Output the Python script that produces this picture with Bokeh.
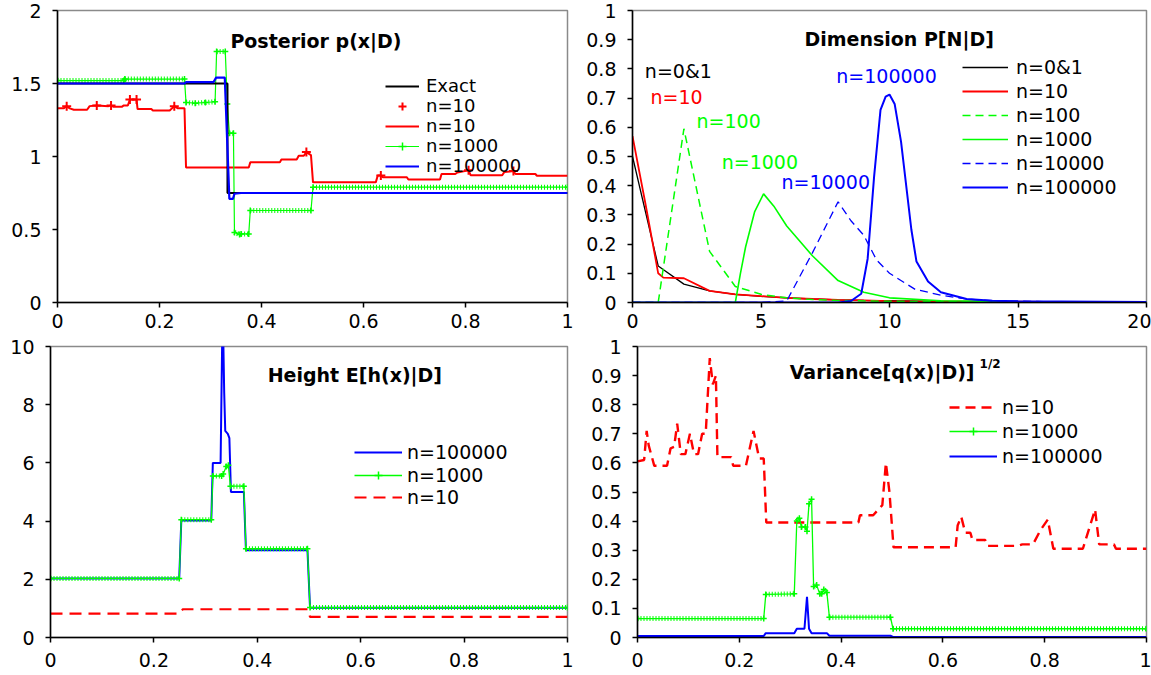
import numpy as np
from bokeh.plotting import figure
from bokeh.layouts import column, row
from bokeh.models import Range1d, FixedTicker, Legend, LegendItem, Label
from bokeh.embed import file_html
from bokeh.resources import INLINE

# ---------------- data ----------------
unit_ticks = [0, 0.2, 0.4, 0.6, 0.8, 1]
unit_tick_labels = ["0", "0.2", "0.4", "0.6", "0.8", "1"]

# Panel 1: Posterior p(x|D)
p1_yticks = [0, 0.5, 1, 1.5, 2]
p1_ylabels = ["0", "0.5", "1", "1.5", "2"]
exact_x = [0, 0.3333, 0.3333, 1]
exact_y = [1.5, 1.5, 0.75, 0.75]
post10_x = [0, 0.012, 0.018, 0.024, 0.032, 0.058, 0.063, 0.077, 0.1, 0.105,
            0.11, 0.126, 0.13, 0.138, 0.142, 0.155, 0.157, 0.184, 0.187, 0.22,
            0.229, 0.236, 0.249, 0.252, 0.375, 0.378, 0.436, 0.439, 0.469, 0.473,
            0.483, 0.488, 0.497, 0.501, 0.624, 0.628, 0.634, 0.638, 0.685, 0.688,
            0.75, 0.753, 0.78, 0.784, 0.806, 0.81, 0.872, 0.876, 0.894, 0.898,
            0.937, 0.94, 1]
post10_y = [1.33, 1.33, 1.345, 1.33, 1.32, 1.32, 1.345, 1.35, 1.345, 1.35,
            1.34, 1.34, 1.35, 1.35, 1.39, 1.39, 1.325, 1.325, 1.315, 1.315,
            1.345, 1.33, 1.33, 0.925, 0.925, 0.96, 0.96, 0.98, 0.98, 1.005,
            1.005, 1.03, 1.01, 0.823, 0.823, 0.87, 0.87, 0.858, 0.858, 0.842,
            0.842, 0.88, 0.88, 0.89, 0.905, 0.872, 0.872, 0.893, 0.9, 0.88,
            0.88, 0.868, 0.868]
post10_pts_x = [0.018, 0.077, 0.105, 0.142, 0.155, 0.229, 0.488, 0.634, 0.806, 0.894]
post10_pts_y = [1.345, 1.35, 1.35, 1.39, 1.39, 1.345, 1.03, 0.87, 0.905, 0.9]
post1000_x = [0, 0.13, 0.132, 0.249, 0.252, 0.27, 0.29, 0.309, 0.312, 0.329,
              0.333, 0.337, 0.345, 0.347, 0.357, 0.36, 0.375, 0.378, 0.497, 0.501, 1]
post1000_y = [1.52, 1.52, 1.53, 1.53, 1.37, 1.365, 1.37, 1.375, 1.72, 1.72,
              1.36, 1.16, 1.16, 0.48, 0.465, 0.47, 0.47, 0.63, 0.63, 0.79, 0.79]
post1e5_x = [0, 0.249, 0.252, 0.306, 0.311, 0.328, 0.337, 0.344, 0.347, 0.36, 1]
post1e5_y = [1.5, 1.5, 1.51, 1.51, 1.54, 1.54, 0.71, 0.71, 0.745, 0.75, 0.75]

# Panel 2: Dimension P[N|D]
p2_xticks = [0, 5, 10, 15, 20]
p2_xlabels = ["0", "5", "10", "15", "20"]
p2_yticks = [0, 0.1, 0.2, 0.3, 0.4, 0.5, 0.6, 0.7, 0.8, 0.9, 1]
p2_ylabels = ["0", "0.1", "0.2", "0.3", "0.4", "0.5", "0.6", "0.7", "0.8", "0.9", "1"]
dim01_x = [0, 1, 2, 3, 4, 5, 6, 7, 8, 9, 10, 12, 14, 16, 18, 20]
dim01_y = [0.5, 0.125, 0.063, 0.04, 0.028, 0.021, 0.016, 0.012, 0.009, 0.007,
           0.006, 0.004, 0.003, 0.002, 0.002, 0.001]
dim10_x = [0, 0.5, 1, 1.2, 2, 3, 4, 5, 6, 7, 8, 9, 10, 12, 14, 16, 20]
dim10_y = [0.57, 0.34, 0.1, 0.085, 0.083, 0.04, 0.028, 0.022, 0.016, 0.012,
           0.009, 0.007, 0.005, 0.004, 0.003, 0.002, 0.001]
dim100_x = [0, 1, 2, 3, 4, 5, 6, 7, 8, 10, 12, 15, 20]
dim100_y = [0, 0, 0.595, 0.175, 0.055, 0.028, 0.016, 0.01, 0.007, 0.004, 0.003, 0.002, 0.001]
dim1000_x = [0, 4, 4.2, 4.4, 4.75, 5.1, 5.5, 6, 7, 8, 9, 10, 12, 15, 20]
dim1000_y = [0, 0, 0.1, 0.19, 0.31, 0.372, 0.33, 0.262, 0.16, 0.075, 0.035, 0.016, 0.006, 0.003, 0.002]
dim1e4_x = [0, 5, 6, 7, 8, 8.5, 9, 9.5, 10, 11, 12, 13, 14, 16, 20]
dim1e4_y = [0, 0, 0.005, 0.17, 0.345, 0.28, 0.23, 0.145, 0.1, 0.045, 0.025, 0.012, 0.006, 0.003, 0.002]
dim1e5_x = [0, 8, 8.5, 8.9, 9.15, 9.4, 9.65, 9.85, 10, 10.2, 10.45, 10.85, 11.05,
            11.5, 12, 13, 14, 15, 20]
dim1e5_y = [0, 0, 0.005, 0.03, 0.15, 0.43, 0.66, 0.705, 0.712, 0.68, 0.55, 0.25,
            0.14, 0.072, 0.035, 0.012, 0.006, 0.004, 0.002]
dim_labels = ["n=0&1", "n=10", "n=100", "n=1000", "n=10000", "n=100000"]
dim_label_x = [0.48, 0.7, 2.49, 3.47, 5.8, 7.93]
dim_label_y = [0.792, 0.704, 0.623, 0.481, 0.413, 0.775]

# Panel 3: Height E[h(x)|D]
p3_yticks = [0, 2, 4, 6, 8, 10]
p3_ylabels = ["0", "2", "4", "6", "8", "10"]
h1e5_x = [0, 0.249, 0.253, 0.311, 0.314, 0.329, 0.333, 0.336, 0.338, 0.343,
          0.346, 0.349, 0.374, 0.378, 0.497, 0.502, 1]
h1e5_y = [2.03, 2.03, 4.02, 4.02, 6.0, 6.0, 11.5, 8.4, 7.1, 7.0,
          6.85, 5.0, 5.0, 3.0, 3.0, 1.02, 1.02]
h1000_x = [0, 0.249, 0.253, 0.311, 0.314, 0.331, 0.334, 0.34, 0.344, 0.348,
           0.374, 0.378, 0.497, 0.502, 1]
h1000_y = [2.03, 2.03, 4.05, 4.05, 5.55, 5.55, 5.62, 5.88, 5.92, 5.2,
           5.2, 3.05, 3.05, 1.03, 1.03]
h10_x = [0, 0.249, 0.256, 0.498, 0.502, 1]
h10_y = [0.82, 0.82, 0.97, 0.97, 0.71, 0.71]

# Panel 4: Variance[q(x)|D]^1/2
p4_yticks = [0, 0.1, 0.2, 0.3, 0.4, 0.5, 0.6, 0.7, 0.8, 0.9, 1]
p4_ylabels = ["0", "0.1", "0.2", "0.3", "0.4", "0.5", "0.6", "0.7", "0.8", "0.9", "1"]
v10_x = [0, 0.013, 0.018, 0.022, 0.033, 0.058, 0.065, 0.072, 0.078, 0.085,
         0.094, 0.103, 0.111, 0.119, 0.127, 0.134, 0.142, 0.148, 0.154, 0.157,
         0.184, 0.188, 0.213, 0.228, 0.239, 0.248, 0.253, 0.434, 0.437, 0.463,
         0.481, 0.488, 0.495, 0.503, 0.625, 0.629, 0.636, 0.644, 0.654, 0.658,
         0.683, 0.687, 0.748, 0.756, 0.777, 0.792, 0.806, 0.817, 0.875, 0.899,
         0.907, 0.936, 0.94, 1]
v10_y = [0.605, 0.61, 0.71, 0.66, 0.59, 0.59, 0.65, 0.655, 0.735, 0.63,
         0.63, 0.7, 0.63, 0.63, 0.7, 0.7, 0.96, 0.87, 0.9, 0.62,
         0.62, 0.59, 0.59, 0.71, 0.615, 0.615, 0.395, 0.395, 0.42, 0.42,
         0.455, 0.6, 0.5, 0.31, 0.31, 0.385, 0.415, 0.36, 0.36, 0.335,
         0.335, 0.315, 0.315, 0.32, 0.32, 0.37, 0.405, 0.305, 0.305, 0.44,
         0.32, 0.32, 0.305, 0.305]
v1000_x = [0, 0.248, 0.252, 0.308, 0.313, 0.318, 0.322, 0.33, 0.333, 0.337,
           0.342, 0.346, 0.352, 0.358, 0.362, 0.366, 0.372, 0.377, 0.497, 0.502, 1]
v1000_y = [0.065, 0.065, 0.148, 0.15, 0.4, 0.41, 0.38, 0.38, 0.365, 0.46,
           0.475, 0.175, 0.18, 0.15, 0.15, 0.165, 0.155, 0.07, 0.07, 0.03, 0.03]
v1e5_x = [0, 0.248, 0.252, 0.308, 0.313, 0.328, 0.333, 0.337, 0.342, 0.372,
          0.377, 0.497, 0.502, 1]
v1e5_y = [0.005, 0.005, 0.015, 0.015, 0.03, 0.03, 0.14, 0.03, 0.015, 0.015,
          0.006, 0.006, 0.002, 0.002]

titles = ["Posterior p(x|D)", "Dimension P[N|D]", "Height E[h(x)|D]", "Variance[q(x)|D)]"]

# ---------------- style ----------------
FONT = "DejaVu Sans"
FS = "19px"
RED, GREEN, BLUE, BLACK = "#ff0000", "#00ff00", "#0000ff", "#000000"


def make_fig(w, h, bl, br, bt, bb, xr, yr, xt, xl, yt, yl, xstand):
    p = figure(width=w, height=h, x_range=Range1d(*xr), y_range=Range1d(*yr),
               output_backend="svg", toolbar_location=None,
               min_border_left=bl, min_border_right=br,
               min_border_top=bt, min_border_bottom=bb)
    p.xgrid.visible = False
    p.ygrid.visible = False
    p.outline_line_color = "#8a8a8a"
    p.outline_line_width = 1.5
    for ax, ticks, labels in ((p.xaxis[0], xt, xl), (p.yaxis[0], yt, yl)):
        ax.ticker = FixedTicker(ticks=ticks)
        ax.major_label_overrides = {t: s for t, s in zip(ticks, labels)}
        ax.major_tick_out = 5
        ax.major_tick_in = 0
        ax.minor_tick_line_color = None
        ax.axis_line_color = "black"
        ax.axis_line_width = 1.5
        ax.major_tick_line_width = 1.5
        ax.major_label_text_font = FONT
        ax.major_label_text_font_size = FS
        ax.major_label_text_color = "black"
    p.xaxis[0].major_label_standoff = xstand
    p.yaxis[0].major_label_standoff = 11
    return p


def marker_overlay(p, xs, ys, flat_tol, color):
    xs = np.asarray(xs, dtype=float)
    ys = np.asarray(ys, dtype=float)
    m = np.abs(np.diff(ys)) <= flat_tol
    p.segment(xs[:-1][m], ys[:-1][m], xs[1:][m], ys[1:][m],
              line_color=color, line_width=5, line_dash="1 2")


def add_title(p, x, y, text, size="19px"):
    p.add_layout(Label(x=x, y=y, text=text, text_font=FONT, text_font_style="bold",
                       text_color="black", text_font_size=size,
                       text_baseline="middle", text_align="left"))


def add_legend(p, entries, gx, centers, frame_bottom, gw, standoff, fs=FS):
    # one legend box per entry so that the row pitch follows the reference
    for (label, rends), c in zip(entries, centers):
        leg = Legend(items=[LegendItem(label=label, renderers=rends)],
                     location=(gx, frame_bottom - c - 10),
                     border_line_color=None, background_fill_alpha=0,
                     padding=0, margin=0, spacing=0,
                     glyph_width=gw, glyph_height=20, label_height=20,
                     label_standoff=standoff, label_text_font=FONT,
                     label_text_font_size=fs, label_text_color="black")
        p.add_layout(leg)


# ---------------- panel 1 ----------------
# frame: x 57..567, y 10..302 (page px)
p1 = make_fig(578, 335, 57, 11, 10, 33, (0, 1), (0, 2), unit_ticks, unit_tick_labels,
              p1_yticks, p1_ylabels, 6)
r_red = p1.line(post10_x, post10_y, line_color=RED, line_width=2)
r_redpts = p1.scatter(post10_pts_x, post10_pts_y, marker="cross", size=9,
                      line_color=RED, line_width=2)
r_green = p1.line(post1000_x, post1000_y, line_color=GREEN, line_width=1.2)
marker_overlay(p1, post1000_x, post1000_y, 0.02, GREEN)
r_greenpts = p1.scatter(post1000_x, post1000_y, marker="cross", size=6,
                        line_color=GREEN, line_width=1.5)
r_black = p1.line(exact_x, exact_y, line_color=BLACK, line_width=2)
r_blue = p1.line(post1e5_x, post1e5_y, line_color=BLUE, line_width=2.2)
add_title(p1, 0.339, 1.793, titles[0])
add_legend(p1, [("Exact", [r_black]), ("n=10", [r_redpts]), ("n=10", [r_red]),
                ("n=1000", [r_green, r_greenpts]), ("n=100000", [r_blue])],
           328, [76, 96, 116, 136, 156], 292, 34, 7, fs="18px")

# ---------------- panel 2 ----------------
# frame: x 632..1146, y 10..302
p2 = make_fig(573, 335, 54, 5, 10, 33, (0, 20), (0, 1), p2_xticks, p2_xlabels,
              p2_yticks, p2_ylabels, 6)
d0 = p2.line(dim01_x, dim01_y, line_color=BLACK, line_width=1.3)
d1 = p2.line(dim10_x, dim10_y, line_color=RED, line_width=1.8)
d2 = p2.line(dim100_x, dim100_y, line_color=GREEN, line_width=1.5, line_dash="8 5")
d3 = p2.line(dim1000_x, dim1000_y, line_color=GREEN, line_width=1.6)
d4 = p2.line(dim1e4_x, dim1e4_y, line_color=BLUE, line_width=1.3, line_dash="8 5")
d5 = p2.line(dim1e5_x, dim1e5_y, line_color=BLUE, line_width=2)
add_title(p2, 6.69, 0.903, titles[1])
for txt, lx, ly, col in zip(dim_labels, dim_label_x, dim_label_y,
                            [BLACK, RED, GREEN, GREEN, BLUE, BLUE]):
    p2.add_layout(Label(x=lx, y=ly, text=txt, text_color=col, text_font=FONT,
                        text_font_size=FS, text_baseline="middle"))
add_legend(p2, [(t, [r]) for t, r in zip(dim_labels, [d0, d1, d2, d3, d4, d5])],
           330, [58.3, 82, 106, 130, 154, 178], 292, 46, 8)

# ---------------- panel 3 ----------------
# frame: x 50..567, y 346..637
p3 = make_fig(578, 340, 50, 11, 11, 38, (0, 1), (0, 10), unit_ticks, unit_tick_labels,
              p3_yticks, p3_ylabels, 10)
h_red = p3.line(h10_x, h10_y, line_color=RED, line_width=2.2, line_dash="12 7")
h_blue = p3.line(h1e5_x, h1e5_y, line_color=BLUE, line_width=2)
h_green = p3.line(h1000_x, h1000_y, line_color=GREEN, line_width=1.3)
marker_overlay(p3, h1000_x, h1000_y, 0.1, GREEN)
h_greenpts = p3.scatter(h1000_x, h1000_y, marker="cross", size=6,
                        line_color=GREEN, line_width=1.5)
add_title(p3, 0.42, 9.03, titles[2])
add_legend(p3, [("n=100000", [h_blue]), ("n=1000", [h_green, h_greenpts]),
                ("n=10", [h_red])],
           304, [107.3, 129.7, 152.3], 291, 48, 5)

# ---------------- panel 4 ----------------
# frame: x 637..1146, y 346..637
p4 = make_fig(573, 340, 59, 5, 11, 38, (0, 1), (0, 1), unit_ticks, unit_tick_labels,
              p4_yticks, p4_ylabels, 10)
v_red = p4.line(v10_x, v10_y, line_color=RED, line_width=2.4, line_dash="10 6")
v_green = p4.line(v1000_x, v1000_y, line_color=GREEN, line_width=1.3)
marker_overlay(p4, v1000_x, v1000_y, 0.012, GREEN)
v_greenpts = p4.scatter(v1000_x, v1000_y, marker="cross", size=6,
                        line_color=GREEN, line_width=1.5)
v_blue = p4.line(v1e5_x, v1e5_y, line_color=BLUE, line_width=2)
add_title(p4, 0.299, 0.911, titles[3])
add_title(p4, 0.672, 0.939, "1/2", size="12px")
add_legend(p4, [("n=10", [v_red]), ("n=1000", [v_green, v_greenpts]),
                ("n=100000", [v_blue])],
           312, [62.3, 86.3, 110.7], 291, 48, 5)

layout = column(row(p1, p2), row(p3, p4))
open("out.html", "w").write(file_html(layout, INLINE))
